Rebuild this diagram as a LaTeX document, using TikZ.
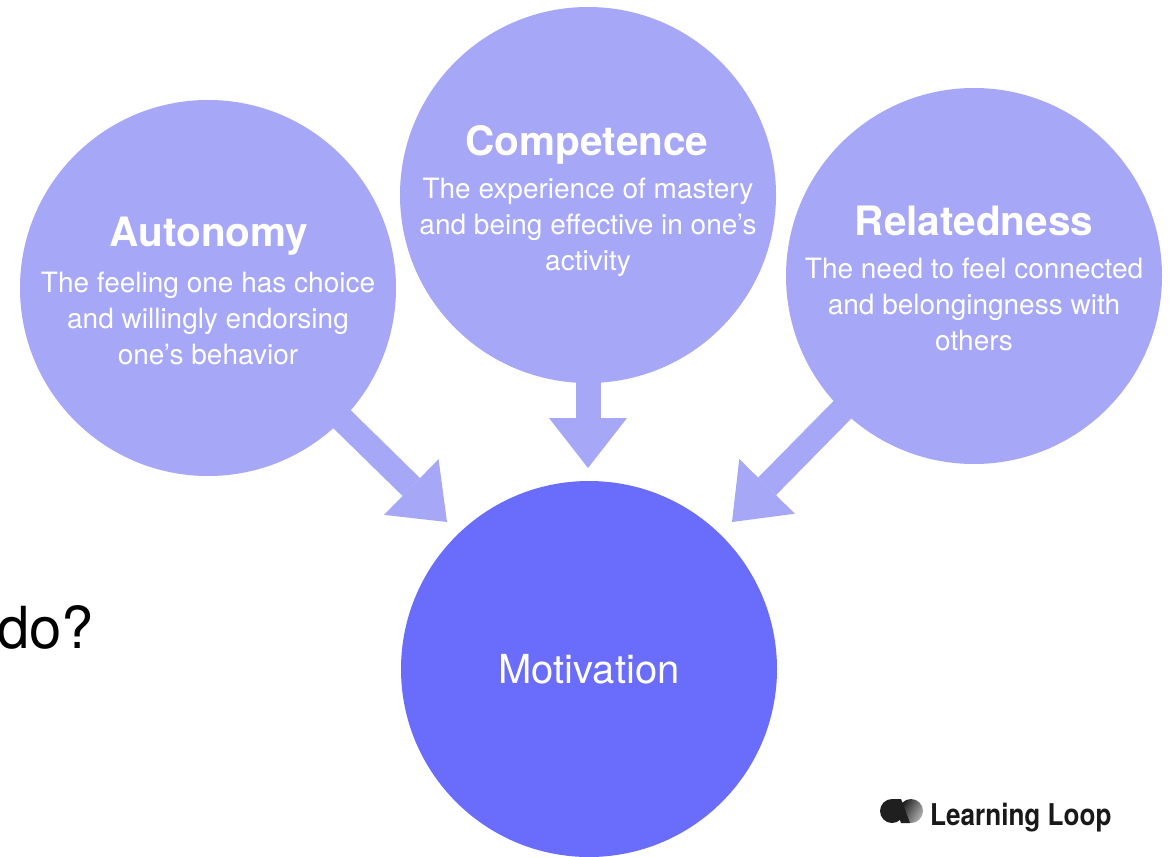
\documentclass[tikz,border=0pt]{standalone}
\usepackage{fontspec}
\setmainfont{TeX Gyre Heros}
\usetikzlibrary{arrows.meta}
\definecolor{light}{HTML}{A6A7F7}
\definecolor{dark}{HTML}{6A6CFC}
\tikzset{
  bubble/.style={circle, fill=light, minimum size=376pt, inner sep=0pt, outer sep=0pt},
  mainbubble/.style={circle, fill=dark, minimum size=376pt, inner sep=0pt, outer sep=0pt},
  title/.style={font=\fontsize{40.5}{46}\selectfont\bfseries, text=white, anchor=base, inner sep=0pt},
  body/.style={font=\fontsize{28}{34}\selectfont, text=white, anchor=base, inner sep=0pt},
  blockarrow/.style={draw=light, line width=25pt, shorten <=-4pt,
     -{Triangle[width=78pt,length=50pt,line width=0pt]}},
}
\begin{document}
\begin{tikzpicture}[x=1pt,y=-1pt]
\useasboundingbox (0,0) rectangle (1176,857);
\fill[white] (0,0) rectangle (1176,857);
% circles
\node[bubble] (aut) at (208,288) {};
\node[bubble] (com) at (588,195) {};
\node[bubble] (rel) at (974,276) {};
\node[mainbubble] (mot) at (589,669) {};
% arrow tips
\coordinate (tA) at (447,522);
\coordinate (tC) at (588,468);
\coordinate (tR) at (732,522);
\draw[blockarrow] (aut) -- (tA);
\draw[blockarrow] (com) -- (tC);
\draw[blockarrow] (rel) -- (tR);
% Autonomy text
\node[title] (a0) at (209,246) {Autonomy};
\node[body] (a1) at (208,292) {The feeling one has choice};
\node[body] (a2) at (208,328) {and willingly endorsing};
\node[body] (a3) at (208,364) {one's behavior};
% Competence text
\node[title] (c0) at (587,155) {Competence};
\node[body] (c1) at (588,198) {The experience of mastery};
\node[body] (c2) at (588,234) {and being effective in one's};
\node[body] (c3) at (588,270) {activity};
% Relatedness text
\node[title] (r0) at (974,235) {Relatedness};
\node[body] (r1) at (974,278) {The need to feel connected};
\node[body] (r2) at (974,314) {and belongingness with};
\node[body] (r3) at (974,350) {others};
% Motivation
\node[font=\fontsize{40}{46}\selectfont, text=white, anchor=base, inner sep=0pt] (m0) at (589,683) {Motivation};
% left fragment
\node[font=\fontsize{58}{64}\selectfont, text=black, anchor=base east, inner sep=0pt] (q) at (94,648) {do?};
% logo icon
\fill[black!88] (892,811) circle (12);
\shade[left color=black!90, right color=black!30, shading angle=60] (911,811) circle (12);
\fill[black!88] (892,799) -- (901,799) -- (910,823) -- (901,823) -- cycle;
\node[font=\fontsize{30}{34}\selectfont\bfseries, text=black!90, anchor=base west, inner sep=0pt, xscale=0.87, transform shape] (logo) at (930,825) {Learning Loop};
\end{tikzpicture}
\end{document}
